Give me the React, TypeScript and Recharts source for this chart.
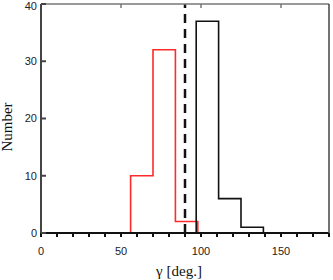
import React from 'react'
import {
  ComposedChart,
  Line,
  XAxis,
  YAxis,
  ReferenceLine,
  Label,
} from 'recharts';

// bin edges and counts
const redEdges = [56, 70, 84, 98];
const redCounts = [10, 32, 2];
const blackEdges = [97, 111, 125, 139];
const blackCounts = [37, 6, 1];
const cutLine = 90;

const xTicks = [0, 10, 20, 30, 40, 50, 60, 70, 80, 90, 100, 110, 120, 130, 140, 150, 160, 170, 180];
const xLabelTicks = [0, 50, 100, 150];
const topTicks = [50, 100, 150];
const yTicks = [0, 10, 20, 30, 40];

// step outline of a histogram: start at zero, then one point per bin, back to zero
const toSteps = (edges: number[], counts: number[]) => {
  const pts = [{ x: edges[0], y: 0 }];
  counts.forEach((c, i) => pts.push({ x: edges[i], y: c }));
  pts.push({ x: edges[edges.length - 1], y: 0 });
  return pts;
};

const redData = toSteps(redEdges, redCounts);
const blackData = toSteps(blackEdges, blackCounts);

const tickFont = { fontFamily: '"Liberation Sans", Arial, sans-serif', fontSize: 11, fill: '#222' };
const labelFont = '"Liberation Serif", "Times New Roman", serif';

const App: React.FC = () => {
  return (
    <div style={{ position: 'absolute', left: 0, top: 0 }}>
      <ComposedChart width={333} height={280} margin={{ top: 4, right: 4, bottom: 0, left: 0 }}>
        <XAxis
          xAxisId="b"
          type="number"
          dataKey="x"
          domain={[0, 180]}
          ticks={xTicks}
          interval={0}
          allowDataOverflow
          height={47}
          tickSize={4}
          tickMargin={10}
          tick={tickFont}
          tickFormatter={(v: number) => (xLabelTicks.includes(v) ? String(v) : '')}
          stroke="#111"
          strokeWidth={2}
        >
          <Label
            content={() => (
              <text x={179} y={276} textAnchor="middle" fontFamily={labelFont} fontSize={15} fill="#111">
                γ [deg.]
              </text>
            )}
          />
        </XAxis>
        <XAxis
          xAxisId="t"
          orientation="top"
          type="number"
          dataKey="x"
          domain={[0, 180]}
          ticks={topTicks}
          allowDataOverflow
          mirror
          tickSize={4}
          tickFormatter={() => ''}
          stroke="#777"
          strokeWidth={1.5}
        />
        <YAxis
          yAxisId="l"
          type="number"
          domain={[0, 40]}
          ticks={yTicks}
          width={41}
          tickSize={-5}
          tickMargin={9}
          tick={tickFont}
          stroke="#444"
          strokeWidth={2}
        >
          <Label
            content={() => (
              <text
                x={12}
                y={127}
                textAnchor="middle"
                transform="rotate(-90, 12, 127)"
                fontFamily={labelFont}
                fontSize={15}
                fill="#111"
              >
                Number
              </text>
            )}
          />
        </YAxis>
        <YAxis
          yAxisId="r"
          orientation="right"
          type="number"
          domain={[0, 40]}
          ticks={[10, 20, 30]}
          mirror
          tickSize={5}
          tickFormatter={() => ''}
          stroke="#444"
          strokeWidth={1.5}
        />
        <ReferenceLine
          xAxisId="b"
          yAxisId="l"
          x={cutLine}
          stroke="#111"
          strokeWidth={2.5}
          strokeDasharray="9 6"
        />
        <Line
          xAxisId="b"
          yAxisId="l"
          data={redData}
          dataKey="y"
          type="stepAfter"
          stroke="#ff2a2a"
          strokeWidth={1.6}
          dot={false}
          isAnimationActive={false}
        />
        <Line
          xAxisId="b"
          yAxisId="l"
          data={blackData}
          dataKey="y"
          type="stepAfter"
          stroke="#111"
          strokeWidth={1.6}
          dot={false}
          isAnimationActive={false}
        />
      </ComposedChart>
    </div>
  );
};

export default App;
